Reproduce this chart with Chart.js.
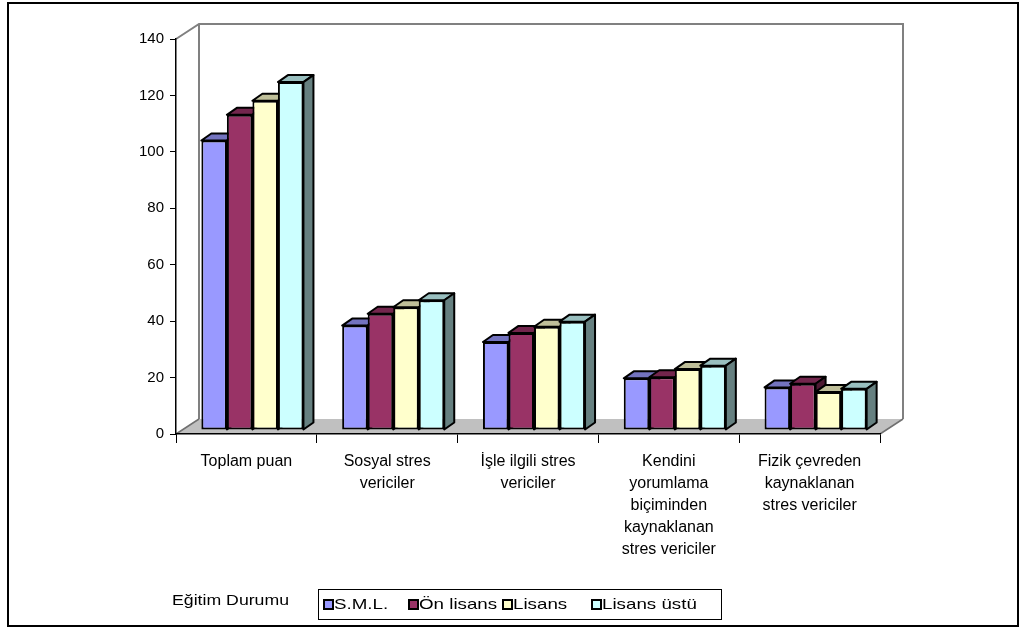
<!DOCTYPE html>
<html>
<head>
<meta charset="utf-8">
<script src="https://cdn.jsdelivr.net/npm/chart.js@4/dist/chart.umd.min.js"></script>
<style>
  html, body { margin: 0; padding: 0; background: #fff; }
  #wrap { width: 1019px; height: 632px; position: relative; }
</style>
</head>
<body>
<div id="wrap"><canvas id="c" width="1019" height="632"></canvas></div>
<script>
// Stress source categories (multi-line axis labels)
const categories = [
  ['Toplam puan'],
  ['Sosyal stres', 'vericiler'],
  ['İşle ilgili stres', 'vericiler'],
  ['Kendini', 'yorumlama', 'biçiminden', 'kaynaklanan', 'stres vericiler'],
  ['Fizik çevreden', 'kaynaklanan', 'stres vericiler']
];

// Education level groups
const seriesNames = ['S.M.L.', 'Ön lisans', 'Lisans', 'Lisans üstü'];
const smlValues       = [102.6, 37.0, 31.2, 18.3, 15.1];
const onLisansValues  = [111.7, 41.2, 34.4, 18.7, 16.4];
const lisansValues    = [116.7, 43.5, 36.6, 21.6, 13.5];
const lisansUstuValues = [123.3, 46.0, 38.4, 22.8, 14.6];
const seriesValues = [smlValues, onLisansValues, lisansValues, lisansUstuValues];

const seriesColors = ['#9999FF', '#993366', '#FFFFCC', '#CCFFFF'];
const legendTitle = 'Eğitim Durumu';

const FONT = 'Arial, "Liberation Sans", sans-serif';

// Depth of each bar, depth offset of bars into the box, and depth of the box walls
const BAR_DEPTH = { dx: 10, dy: -7 };
const BAR_SHIFT = { dx: 6, dy: -4 };
const BOX_DEPTH = { dx: 23, dy: -15 };

function shade(hex, f) {
  const n = parseInt(hex.slice(1), 16);
  const r = Math.round(((n >> 16) & 255) * f);
  const g = Math.round(((n >> 8) & 255) * f);
  const b = Math.round((n & 255) * f);
  return `rgb(${r},${g},${b})`;
}

// text drawn with a slight horizontal stretch, as in the legend
function wideText(ctx, text, x, y, sx) {
  ctx.save();
  ctx.translate(x, y);
  ctx.scale(sx, 1);
  ctx.fillText(text, 0, 0);
  ctx.restore();
}

const box3d = {
  id: 'box3d',
  beforeDraw(chart) {
    const ctx = chart.ctx;
    const a = chart.chartArea;
    const L = a.left, R = a.right, T = a.top, B = a.bottom;
    const wx = BOX_DEPTH.dx, wy = BOX_DEPTH.dy;
    ctx.save();
    // outer frame
    ctx.strokeStyle = '#000';
    ctx.lineWidth = 2;
    ctx.strokeRect(8, 3, 1010, 623);
    // floor
    ctx.fillStyle = '#C0C0C0';
    ctx.beginPath();
    ctx.moveTo(L, B);
    ctx.lineTo(L + wx, B + wy);
    ctx.lineTo(R + wx, B + wy);
    ctx.lineTo(R, B);
    ctx.closePath();
    ctx.fill();
    // wall edges
    ctx.strokeStyle = '#808080';
    ctx.lineWidth = 2;
    ctx.beginPath();
    ctx.moveTo(L, T);
    ctx.lineTo(L + wx, T + wy);
    ctx.lineTo(R + wx, T + wy);
    ctx.lineTo(R + wx, B + wy);
    ctx.moveTo(L + wx, T + wy);
    ctx.lineTo(L + wx, B + wy);
    ctx.stroke();
    ctx.lineWidth = 1.5;
    ctx.strokeStyle = '#707070';
    ctx.beginPath();
    ctx.moveTo(L, B);
    ctx.lineTo(L + wx, B + wy);
    ctx.moveTo(R, B);
    ctx.lineTo(R + wx, B + wy);
    ctx.stroke();
    ctx.restore();
  },
  // bars are drawn below, left to right, so that nearer faces cover the ones behind
  beforeDatasetDraw() {
    return false;
  },
  afterDatasetsDraw(chart) {
    const ctx = chart.ctx;
    ctx.save();
    ctx.translate(BAR_SHIFT.dx, BAR_SHIFT.dy);
    chart.data.datasets.forEach((ds, i) => {
      const meta = chart.getDatasetMeta(i);
      const topColor = shade(ds.backgroundColor, 0.75);
      const sideColor = shade(ds.backgroundColor, 0.5);
      meta.data.forEach(el => {
        el.draw(ctx);
        const p = el.getProps(['x', 'y', 'base', 'width'], true);
        const l = p.x - p.width / 2, r = p.x + p.width / 2;
        const t = p.y, b = p.base;
        const dx = BAR_DEPTH.dx, dy = BAR_DEPTH.dy;
        ctx.lineWidth = 2;
        ctx.strokeStyle = '#000';
        ctx.lineJoin = 'round';
        // top face
        ctx.fillStyle = topColor;
        ctx.beginPath();
        ctx.moveTo(l, t);
        ctx.lineTo(l + dx, t + dy);
        ctx.lineTo(r + dx, t + dy);
        ctx.lineTo(r, t);
        ctx.closePath();
        ctx.fill();
        ctx.stroke();
        // side face
        ctx.fillStyle = sideColor;
        ctx.beginPath();
        ctx.moveTo(r, t);
        ctx.lineTo(r + dx, t + dy);
        ctx.lineTo(r + dx, b + dy);
        ctx.lineTo(r, b);
        ctx.closePath();
        ctx.fill();
        ctx.stroke();
      });
    });
    ctx.restore();
  },
  afterDraw(chart) {
    const ctx = chart.ctx;
    ctx.save();
    ctx.fillStyle = '#000';
    ctx.textBaseline = 'middle';
    ctx.textAlign = 'left';
    ctx.font = '15px ' + FONT;
    wideText(ctx, legendTitle, 172, 601, 1.18);
    // legend box
    ctx.strokeStyle = '#000';
    ctx.lineWidth = 1;
    ctx.strokeRect(318.5, 589.5, 403, 30);
    const markerX = [324, 409, 503, 592];
    chart.data.datasets.forEach((ds, i) => {
      const x = markerX[i];
      ctx.fillStyle = ds.backgroundColor;
      ctx.fillRect(x, 600, 9, 9);
      ctx.lineWidth = 2;
      ctx.strokeStyle = '#000';
      ctx.strokeRect(x, 600, 9, 9);
      ctx.fillStyle = '#000';
      wideText(ctx, ds.label, x + 10, 605, 1.25);
    });
    ctx.restore();
  }
};

new Chart(document.getElementById('c'), {
  type: 'bar',
  data: {
    labels: categories,
    datasets: seriesNames.map((name, i) => ({
      label: name,
      data: seriesValues[i],
      backgroundColor: seriesColors[i],
      borderColor: '#000',
      borderWidth: 2,
      borderSkipped: false,
      categoryPercentage: 0.725,
      barPercentage: 1.0,
      clip: false
    }))
  },
  options: {
    responsive: false,
    animation: false,
    devicePixelRatio: 1,
    layout: { padding: { left: 116, top: 39, right: 139, bottom: 48 } },
    plugins: { legend: { display: false }, tooltip: { enabled: false } },
    scales: {
      x: {
        afterFit(s) { s.height = 150; },
        grid: { display: true, drawOnChartArea: false, tickLength: 9, color: '#000', offset: true },
        border: { display: true, color: '#000', width: 1.5 },
        ticks: {
          color: '#000',
          font: { family: FONT, size: 16, lineHeight: 1.375 },
          maxRotation: 0, autoSkip: false, padding: 8
        }
      },
      y: {
        min: 0, max: 140,
        afterFit(s) { s.width = 60; },
        grid: { display: true, drawOnChartArea: false, tickLength: 6, color: '#000' },
        border: { display: true, color: '#000', width: 1.5 },
        ticks: {
          stepSize: 20,
          color: '#000',
          font: { family: FONT, size: 15 },
          padding: 6
        }
      }
    }
  },
  plugins: [box3d]
});
</script>
</body>
</html>
